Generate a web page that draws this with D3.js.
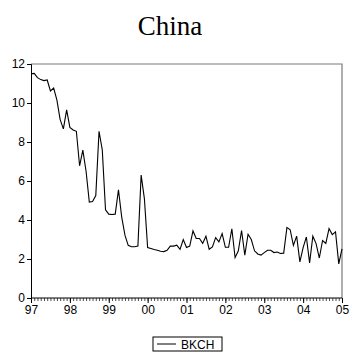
<!DOCTYPE html>
<html>
<head>
<meta charset="utf-8">
<script src="https://cdn.jsdelivr.net/npm/d3@7"></script>
<style>
  html, body { margin: 0; padding: 0; background: #fff; }
  svg { display: block; }
</style>
</head>
<body>
<svg id="chart" width="352" height="358"></svg>
<script>
// Monthly BKCH series, 1997M01 to 2005M01
const startYear = 1997;
const yearLabels = ["97", "98", "99", "00", "01", "02", "03", "04", "05"];
const yTicks = [0, 2, 4, 6, 8, 10, 12];
const bkch = [
  11.50, 11.52, 11.30, 11.20, 11.15, 11.18, 10.62, 10.77, 10.15, 9.15,
  8.67, 9.65, 8.75, 8.62, 8.55, 6.78, 7.58, 6.50, 4.92, 4.95,
  5.25, 8.55, 7.60, 4.52, 4.30, 4.28, 4.30, 5.55, 4.15, 3.22,
  2.70, 2.63, 2.63, 2.66, 6.30, 5.10, 2.59, 2.54, 2.49, 2.45,
  2.40, 2.38, 2.45, 2.66, 2.66, 2.71, 2.49, 3.00, 2.59, 2.66,
  3.44, 3.05, 3.05, 2.80, 3.17, 2.50, 2.62, 3.10, 2.88, 3.30,
  2.60, 2.60, 3.55, 2.07, 2.42, 3.46, 2.20, 3.27, 3.00, 2.42,
  2.26, 2.20, 2.33, 2.45, 2.45, 2.33, 2.36, 2.28, 2.30, 3.62,
  3.50, 2.70, 3.17, 1.85, 2.58, 3.13, 1.80, 3.17, 2.79, 2.05,
  2.95, 2.80, 3.56, 3.25, 3.39, 1.75, 2.52
];
const seriesName = "BKCH";

const svg = d3.select("#chart");
const m = { left: 31, right: 342, top: 64, bottom: 298 };

const x = d3.scaleLinear().domain([0, bkch.length - 1]).range([m.left, m.right]);
const y = d3.scaleLinear().domain([0, 12]).range([m.bottom, m.top]);

// Title
svg.append("text")
  .attr("x", 170).attr("y", 35)
  .attr("text-anchor", "middle")
  .attr("font-family", "'Liberation Serif', 'Times New Roman', serif")
  .attr("font-size", 27)
  .attr("fill", "#000")
  .text("China");

// Frame: top and right edges
svg.append("path")
  .attr("d", `M${m.left},${m.top}H${m.right}V${m.bottom}`)
  .attr("fill", "none").attr("stroke", "#7a7a7a").attr("stroke-width", 1.2);

// Y axis
const yAxis = d3.axisLeft(y).tickValues(yTicks).tickSize(4).tickPadding(2)
  .tickFormat(d3.format("d"));
const gy = svg.append("g").attr("transform", `translate(${m.left},0)`).call(yAxis);
gy.select(".domain").attr("stroke", "#000");
gy.selectAll("text").attr("font-family", "Arial, 'Liberation Sans', sans-serif")
  .attr("font-size", 12).attr("fill", "#000");

// X axis: minor monthly ticks, yearly labels
const months = d3.range(0, bkch.length);
const xMinor = d3.axisBottom(x).tickValues(months).tickSize(3).tickFormat("");
const gxm = svg.append("g").attr("transform", `translate(0,${m.bottom})`).call(xMinor);
gxm.select(".domain").remove();
gxm.selectAll("line").attr("stroke", "#000").attr("stroke-width", 0.7);

const yearIdx = yearLabels.map((_, i) => i * 12);
const xAxis = d3.axisBottom(x).tickValues(yearIdx).tickSize(5).tickPadding(2)
  .tickFormat((d, i) => yearLabels[i]);
const gx = svg.append("g").attr("transform", `translate(0,${m.bottom})`).call(xAxis);
gx.select(".domain").attr("stroke", "#000").attr("d", `M${m.left},0H${m.right}`);
gx.selectAll("text").attr("font-family", "Arial, 'Liberation Sans', sans-serif")
  .attr("font-size", 12).attr("fill", "#000");

// Series line
const line = d3.line().x((d, i) => x(i)).y(d => y(d));
svg.append("path")
  .datum(bkch)
  .attr("d", line)
  .attr("fill", "none")
  .attr("stroke", "#000")
  .attr("stroke-width", 1.1)
  .attr("stroke-linejoin", "miter");

// Legend
const lg = svg.append("g").attr("transform", "translate(153,337)");
lg.append("rect").attr("x", 0).attr("y", 0).attr("width", 69).attr("height", 14)
  .attr("fill", "#fff").attr("stroke", "#000").attr("stroke-width", 1);
lg.append("line").attr("x1", 4).attr("x2", 23).attr("y1", 7).attr("y2", 7)
  .attr("stroke", "#000").attr("stroke-width", 1);
lg.append("text").attr("x", 28).attr("y", 11.5)
  .attr("font-family", "Arial, 'Liberation Sans', sans-serif")
  .attr("font-size", 12).attr("fill", "#000")
  .text(seriesName);
</script>
</body>
</html>
